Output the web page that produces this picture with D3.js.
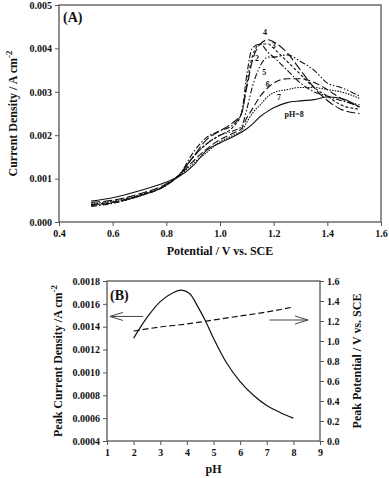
<!DOCTYPE html>
<html>
<head>
<meta charset="utf-8">
<script src="https://d3js.org/d3.v7.min.js"></script>
<style>
    body { margin: 0; background: #fff; }
    text { font-family: "Liberation Serif", "Times New Roman", serif; font-weight: bold; fill: #111; }
</style>
</head>
<body>
<svg id="chart" width="389" height="478"></svg>
<script>
// ---------------- data: panel A (current vs potential at several pH) ----------------
const potential = [0.52, 0.6, 0.7, 0.8, 0.85, 0.9, 0.95, 1.0, 1.05, 1.08, 1.1, 1.12, 1.15, 1.18, 1.2, 1.25, 1.3, 1.35, 1.4, 1.45, 1.52];
const ph2 = [0.00036, 0.00043, 0.0006, 0.00085, 0.0011, 0.0016, 0.00195, 0.0021, 0.00225, 0.0025, 0.0034, 0.0040, 0.0041, 0.0039, 0.0038, 0.0035, 0.0032, 0.0030, 0.0029, 0.0028, 0.0027];
const ph3 = [0.0004, 0.00045, 0.00062, 0.00086, 0.0011, 0.0015, 0.0018, 0.002, 0.0022, 0.0025, 0.0032, 0.0038, 0.0041, 0.0041, 0.0040, 0.0037, 0.0034, 0.0031, 0.0029, 0.0027, 0.0026];
const ph4 = [0.00045, 0.0005, 0.00065, 0.00088, 0.0011, 0.0015, 0.0019, 0.0021, 0.0023, 0.0025, 0.0031, 0.0037, 0.0041, 0.0042, 0.00415, 0.0039, 0.0035, 0.0031, 0.0028, 0.0026, 0.0025];
const ph5 = [0.00038, 0.00044, 0.0006, 0.00085, 0.0011, 0.0015, 0.0018, 0.002, 0.0021, 0.0022, 0.0026, 0.0031, 0.0036, 0.0038, 0.0038, 0.00385, 0.0037, 0.0035, 0.0032, 0.0031, 0.0029];
const ph6 = [0.0004, 0.00046, 0.0006, 0.00085, 0.00108, 0.0014, 0.00168, 0.0019, 0.00205, 0.00215, 0.0024, 0.0026, 0.0029, 0.0031, 0.0032, 0.0033, 0.0033, 0.00322, 0.00305, 0.00285, 0.00265];
const ph7 = [0.00042, 0.00048, 0.00062, 0.00085, 0.00108, 0.00135, 0.0016, 0.00185, 0.002, 0.0021, 0.0023, 0.0025, 0.0027, 0.0029, 0.00298, 0.00305, 0.0031, 0.0031, 0.00305, 0.003, 0.00285];
const ph8 = [0.00048, 0.00056, 0.00072, 0.00092, 0.00106, 0.0013, 0.00165, 0.00182, 0.00197, 0.00207, 0.00215, 0.00225, 0.00243, 0.00256, 0.00263, 0.00275, 0.00279, 0.00282, 0.00288, 0.00285, 0.00265];
const seriesA = [ph2, ph3, ph4, ph5, ph6, ph7, ph8];
const dashesA = ["6,2,1.5,2", "3,2", "9,3", "6,2,1.5,2,1.5,2", "7,3", "1.5,1.2", null];
const labelsA = ["2", "3", "4", "5", "6", "7", "pH=8"];
const labelPosA = [[1.138, 0.00372], [1.2, 0.00402], [1.168, 0.00432], [1.165, 0.00338], [1.178, 0.00312], [1.22, 0.0028], [1.276, 0.00243]];
const ticksAx = [0.4, 0.6, 0.8, 1.0, 1.2, 1.4, 1.6];
const ticksAy = [0, 0.001, 0.002, 0.003, 0.004, 0.005];

// ---------------- data: panel B (peak values vs pH) ----------------
const phB = [2, 2.5, 3, 3.5, 3.8, 4.1, 4.4, 4.7, 5, 5.5, 6, 6.5, 7, 7.5, 8];
const peakCurrent = [0.0013, 0.00148, 0.00162, 0.0017, 0.00172, 0.00169, 0.00158, 0.00145, 0.0013, 0.00108, 0.00092, 0.0008, 0.00071, 0.00065, 0.0006];
const phPot = [2, 3, 4, 5, 6, 7, 8];
const peakPotential = [1.10, 1.14, 1.17, 1.21, 1.25, 1.29, 1.34];
const ticksBx = [1, 2, 3, 4, 5, 6, 7, 8, 9];
const ticksBy = [0.0004, 0.0006, 0.0008, 0.0010, 0.0012, 0.0014, 0.0016, 0.0018];
const ticksBy2 = [0, 0.2, 0.4, 0.6, 0.8, 1.0, 1.2, 1.4, 1.6];

const svg = d3.select("#chart");
const axisColor = "#555";

function styleAxis(g) {
    g.select(".domain").remove();
    g.selectAll(".tick line").attr("stroke", axisColor).attr("stroke-width", 1);
    g.selectAll(".tick text").style("font-size", "10px").attr("fill", "#111");
}

//////////////////// PANEL A ////////////////////
const A = { left: 59, right: 381, top: 5, bottom: 222 };
const xA = d3.scaleLinear().domain([0.4, 1.6]).range([A.left, A.right]);
const yA = d3.scaleLinear().domain([0, 0.005]).range([A.bottom, A.top]);

svg.append("g").attr("transform", "translate(0," + A.bottom + ")")
    .call(d3.axisBottom(xA).tickValues(ticksAx).tickFormat(d3.format(".1f")).tickSize(4).tickPadding(4))
    .call(styleAxis);
svg.append("g").attr("transform", "translate(" + A.left + ",0)")
    .call(d3.axisLeft(yA).tickValues(ticksAy).tickFormat(d3.format(".3f")).tickSize(4).tickPadding(3))
    .call(styleAxis);
svg.append("rect")
    .attr("x", A.left).attr("y", A.top)
    .attr("width", A.right - A.left).attr("height", A.bottom - A.top)
    .attr("fill", "none").attr("stroke", axisColor).attr("stroke-width", 1.3);

const lineA = d3.line().x((d, i) => xA(potential[i])).y(d => yA(d)).curve(d3.curveMonotoneX);
seriesA.forEach((s, k) => {
    svg.append("path")
        .attr("d", lineA(s))
        .attr("fill", "none")
        .attr("stroke", "#111")
        .attr("stroke-width", 1.1)
        .attr("stroke-dasharray", dashesA[k]);
});
labelsA.forEach((t, k) => {
    svg.append("text")
        .attr("x", xA(labelPosA[k][0]))
        .attr("y", yA(labelPosA[k][1]))
        .attr("text-anchor", "middle")
        .style("font-size", "8px")
        .text(t);
});

svg.append("text").attr("x", 63).attr("y", 22).style("font-size", "14px").text("(A)");
svg.append("text")
    .attr("x", (A.left + A.right) / 2).attr("y", 255)
    .attr("text-anchor", "middle").style("font-size", "12px")
    .text("Potential / V vs. SCE");
const ytA = svg.append("text")
    .attr("transform", "translate(17," + (A.top + A.bottom) / 2 + ") rotate(-90)")
    .attr("text-anchor", "middle").style("font-size", "12px");
ytA.append("tspan").text("Current Density / A cm");
ytA.append("tspan").attr("dy", -5).style("font-size", "9px").text("-2");

//////////////////// PANEL B ////////////////////
const B = { left: 107, right: 320, top: 281, bottom: 441 };
const xB = d3.scaleLinear().domain([1, 9]).range([B.left, B.right]);
const yB = d3.scaleLinear().domain([0.0004, 0.0018]).range([B.bottom, B.top]);
const yB2 = d3.scaleLinear().domain([0, 1.6]).range([B.bottom, B.top]);

svg.append("g").attr("transform", "translate(0," + B.bottom + ")")
    .call(d3.axisBottom(xB).tickValues(ticksBx).tickFormat(d3.format("d")).tickSize(4).tickPadding(4))
    .call(styleAxis);
svg.append("g").attr("transform", "translate(" + B.left + ",0)")
    .call(d3.axisLeft(yB).tickValues(ticksBy).tickFormat(d3.format(".4f")).tickSize(4).tickPadding(3))
    .call(styleAxis);
svg.append("g").attr("transform", "translate(" + B.right + ",0)")
    .call(d3.axisRight(yB2).tickValues(ticksBy2).tickFormat(d3.format(".1f")).tickSize(4).tickPadding(3))
    .call(styleAxis);
svg.append("rect")
    .attr("x", B.left).attr("y", B.top)
    .attr("width", B.right - B.left).attr("height", B.bottom - B.top)
    .attr("fill", "none").attr("stroke", axisColor).attr("stroke-width", 1.3);

svg.append("path")
    .attr("d", d3.line().x((d, i) => xB(phB[i])).y(d => yB(d)).curve(d3.curveCatmullRom)(peakCurrent))
    .attr("fill", "none").attr("stroke", "#111").attr("stroke-width", 1.2);
svg.append("path")
    .attr("d", d3.line().x((d, i) => xB(phPot[i])).y(d => yB2(d)).curve(d3.curveMonotoneX)(peakPotential))
    .attr("fill", "none").attr("stroke", "#111").attr("stroke-width", 1.2)
    .attr("stroke-dasharray", "6,3");

// arrows pointing to each axis
function arrow(x0, x1, y) {
    // x1 is the tip
    const dir = x1 < x0 ? 1 : -1;
    svg.append("path")
        .attr("d", "M" + x0 + "," + y + "L" + x1 + "," + y +
            "M" + (x1 + dir * 13) + "," + (y - 4) + "L" + x1 + "," + y + "L" + (x1 + dir * 13) + "," + (y + 4))
        .attr("fill", "none").attr("stroke", "#444").attr("stroke-width", 1);
}
arrow(xB(2.35), xB(1.11), yB(0.00149));
arrow(xB(7.1), xB(8.55), yB2(1.21));

svg.append("text").attr("x", 110).attr("y", 300).style("font-size", "14px").text("(B)");
svg.append("text")
    .attr("x", (B.left + B.right) / 2).attr("y", 473)
    .attr("text-anchor", "middle").style("font-size", "12px")
    .text("pH");
const ytB = svg.append("text")
    .attr("transform", "translate(62," + (B.top + B.bottom) / 2 + ") rotate(-90)")
    .attr("text-anchor", "middle").style("font-size", "12px");
ytB.append("tspan").text("Peak Current Density /A cm");
ytB.append("tspan").attr("dy", -5).style("font-size", "9px").text("-2");
svg.append("text")
    .attr("transform", "translate(361," + (B.top + B.bottom) / 2 + ") rotate(-90)")
    .attr("text-anchor", "middle").style("font-size", "12px")
    .text("Peak Potential / V vs. SCE");
</script>
</body>
</html>
